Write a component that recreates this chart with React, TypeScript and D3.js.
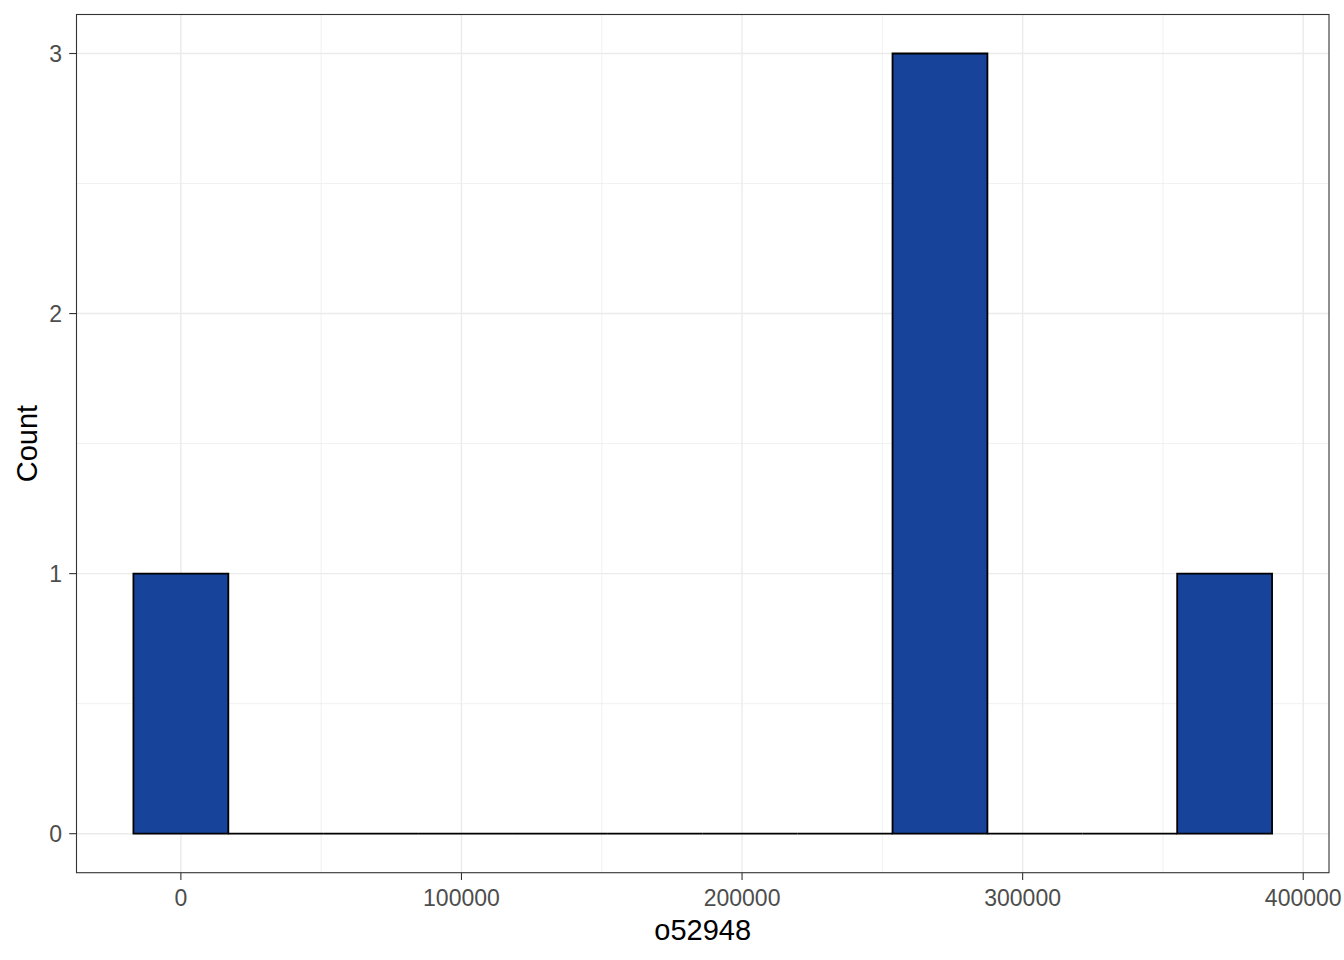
import React from "react";
import * as d3 from "d3";

const binCounts = [1, 0, 0, 0, 0, 0, 0, 0, 3, 0, 0, 1];
const binWidth = 33817;
const firstBinCenter = 0;
const xTicks = [0, 100000, 200000, 300000, 400000];
const xMinor = [50000, 150000, 250000, 350000];
const yTicks = [0, 1, 2, 3];
const yMinor = [0.5, 1.5, 2.5];
const xTitle = "o52948";
const yTitle = "Count";

const W = 1344;
const H = 960;
const panel = { left: 76.5, right: 1329, top: 14.5, bottom: 872.7 };

export default function App() {
  const bins = binCounts.map((c, i) => {
    const center = firstBinCenter + i * binWidth;
    return { x0: center - binWidth / 2, x1: center + binWidth / 2, count: c };
  });
  const xmin = bins[0].x0;
  const xmax = bins[bins.length - 1].x1;
  const xr = xmax - xmin;
  const ymax = d3.max(binCounts) as number;
  const x = d3
    .scaleLinear()
    .domain([xmin - 0.05 * xr, xmax + 0.05 * xr])
    .range([panel.left, panel.right]);
  const y = d3
    .scaleLinear()
    .domain([-0.05 * ymax, ymax * 1.05])
    .range([panel.bottom, panel.top]);
  const font = "'Liberation Sans', Arial, sans-serif";
  const barPath = (b: { x0: number; x1: number; count: number }) => {
    const p = d3.path();
    p.moveTo(x(b.x0), y(0));
    p.lineTo(x(b.x0), y(b.count));
    p.lineTo(x(b.x1), y(b.count));
    p.lineTo(x(b.x1), y(0));
    p.closePath();
    return p.toString();
  };
  return (
    <svg width={W} height={H} style={{ position: "absolute", left: 0, top: 0, background: "#fff" }}>
      <rect x={0} y={0} width={W} height={H} fill="#fff" />
      <g>
        {xMinor.map((v) => (
          <line key={"xm" + v} x1={x(v)} x2={x(v)} y1={panel.top} y2={panel.bottom} stroke="#EBEBEB" strokeWidth={0.7} />
        ))}
        {yMinor.map((v) => (
          <line key={"ym" + v} x1={panel.left} x2={panel.right} y1={y(v)} y2={y(v)} stroke="#EBEBEB" strokeWidth={0.7} />
        ))}
        {xTicks.map((v) => (
          <line key={"xg" + v} x1={x(v)} x2={x(v)} y1={panel.top} y2={panel.bottom} stroke="#EBEBEB" strokeWidth={1.4} />
        ))}
        {yTicks.map((v) => (
          <line key={"yg" + v} x1={panel.left} x2={panel.right} y1={y(v)} y2={y(v)} stroke="#EBEBEB" strokeWidth={1.4} />
        ))}
      </g>
      <g>
        {bins.map((b, i) => (
          <path key={i} d={barPath(b)} fill="#17439A" stroke="#000" strokeWidth={1.8} />
        ))}
      </g>
      <rect
        x={panel.left}
        y={panel.top}
        width={panel.right - panel.left}
        height={panel.bottom - panel.top}
        fill="none"
        stroke="#333333"
        strokeWidth={1.1}
      />
      <g>
        {xTicks.map((v) => (
          <g key={"xt" + v}>
            <line x1={x(v)} x2={x(v)} y1={panel.bottom} y2={panel.bottom + 7.3} stroke="#333333" strokeWidth={1.1} />
            <text x={x(v)} y={906} textAnchor="middle" fontFamily={font} fontSize={23} fill="#4D4D4D">
              {v}
            </text>
          </g>
        ))}
        {yTicks.map((v) => (
          <g key={"yt" + v}>
            <line x1={panel.left - 7.3} x2={panel.left} y1={y(v)} y2={y(v)} stroke="#333333" strokeWidth={1.1} />
            <text x={62} y={y(v) + 8.2} textAnchor="end" fontFamily={font} fontSize={23} fill="#4D4D4D">
              {v}
            </text>
          </g>
        ))}
      </g>
      <text x={(panel.left + panel.right) / 2} y={940} textAnchor="middle" fontFamily={font} fontSize={29} fill="#000">
        {xTitle}
      </text>
      <text
        transform={`translate(37,${(panel.top + panel.bottom) / 2}) rotate(-90)`}
        textAnchor="middle"
        fontFamily={font}
        fontSize={29}
        fill="#000"
      >
        {yTitle}
      </text>
    </svg>
  );
}
